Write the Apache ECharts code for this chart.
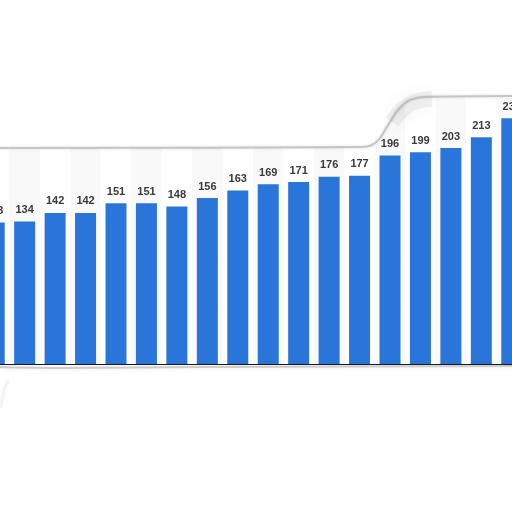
<!DOCTYPE html>
<html><head><meta charset="utf-8">
<script src="https://cdn.jsdelivr.net/npm/echarts@6/dist/echarts.min.js"></script>
<style>html,body{margin:0;padding:0;background:#fff;overflow:hidden;width:512px;height:512px;position:relative}#c{position:absolute;left:-21px;top:0;width:548px;height:512px}</style>
</head><body><div id="c"></div>
<script>
const categories = ['1','2','3','4','5','6','7','8','9','10','11','12','13','14','15','16','17','18'];
const values = [133,134,142,142,151,151,148,156,163,169,171,176,177,196,199,203,213,231];
const yTicks = {min:0, max:250, interval:50};

const OX = 21;
const sh = pts => pts.map(p => [p[0] + OX, p[1]]);
const chart = echarts.init(document.getElementById('c'), null, {renderer:'canvas'});
const topEdge = [[-5,148],[362,147],[372,145],[380,138],[388,125],[398,110],[410,100],[426,97],[517,96]];
chart.setOption({
  backgroundColor:'#fff',
  animation:false,
  grid:{left:0, right:0, top:98, bottom:148, containLabel:false},
  xAxis:{type:'category', data:categories,
    axisLine:{lineStyle:{color:'#1a1a1a', width:1}}, axisTick:{show:false}, axisLabel:{show:false},
    splitArea:{show:true, areaStyle:{color:['#ffffff','#f9f9f9']}}},
  yAxis:{type:'value', min:yTicks.min, max:yTicks.max, interval:yTicks.interval,
    axisLabel:{show:false}, axisLine:{show:false}, axisTick:{show:false},
    splitLine:{lineStyle:{color:'#cccccc', type:[1,2], width:1}}},
  series:[{type:'bar', data:values, barCategoryGap:'31%',
    itemStyle:{color:'#2a75d9'},
    label:{show:true, position:'top', distance:6, color:'#3a3a3a', fontWeight:'bold', fontSize:11, fontFamily:'Liberation Sans, Arial, sans-serif'}}],
  graphic:[
    {type:'polygon', z:100, shape:{points:sh([[-5,-5],[517,-5]].concat(topEdge.slice().reverse()))}, style:{fill:'#fff'}},
    {type:'polygon', z:100, shape:{points:sh([[-5,366],[517,365],[517,517],[-5,517]])}, style:{fill:'#fff'}},
    {type:'polyline', z:101, shape:{points:sh([[392,122],[402,110],[414,102],[432,99]]), smooth:0.4}, style:{stroke:'rgba(140,140,140,0.12)', lineWidth:16, fill:null, shadowBlur:20, shadowColor:'rgba(0,0,0,0.3)'}},
    {type:'polyline', z:101, shape:{points:sh(topEdge), smooth:0.3}, style:{stroke:'rgba(165,165,165,0.55)', lineWidth:2, fill:null, shadowBlur:3, shadowColor:'rgba(0,0,0,0.25)'}},
    {type:'polyline', z:101, shape:{points:sh([[-5,367],[60,368],[200,367],[517,366]]), smooth:0.3}, style:{stroke:'rgba(170,170,170,0.55)', lineWidth:2, fill:null, shadowBlur:4, shadowColor:'rgba(0,0,0,0.2)'}},
    {type:'polyline', z:101, shape:{points:sh([[8,380],[3,394],[1,408]]), smooth:0.4}, style:{stroke:'rgba(200,200,200,0.2)', lineWidth:3, fill:null, shadowBlur:6, shadowColor:'rgba(0,0,0,0.1)'}}
  ]
});
</script></body></html>
